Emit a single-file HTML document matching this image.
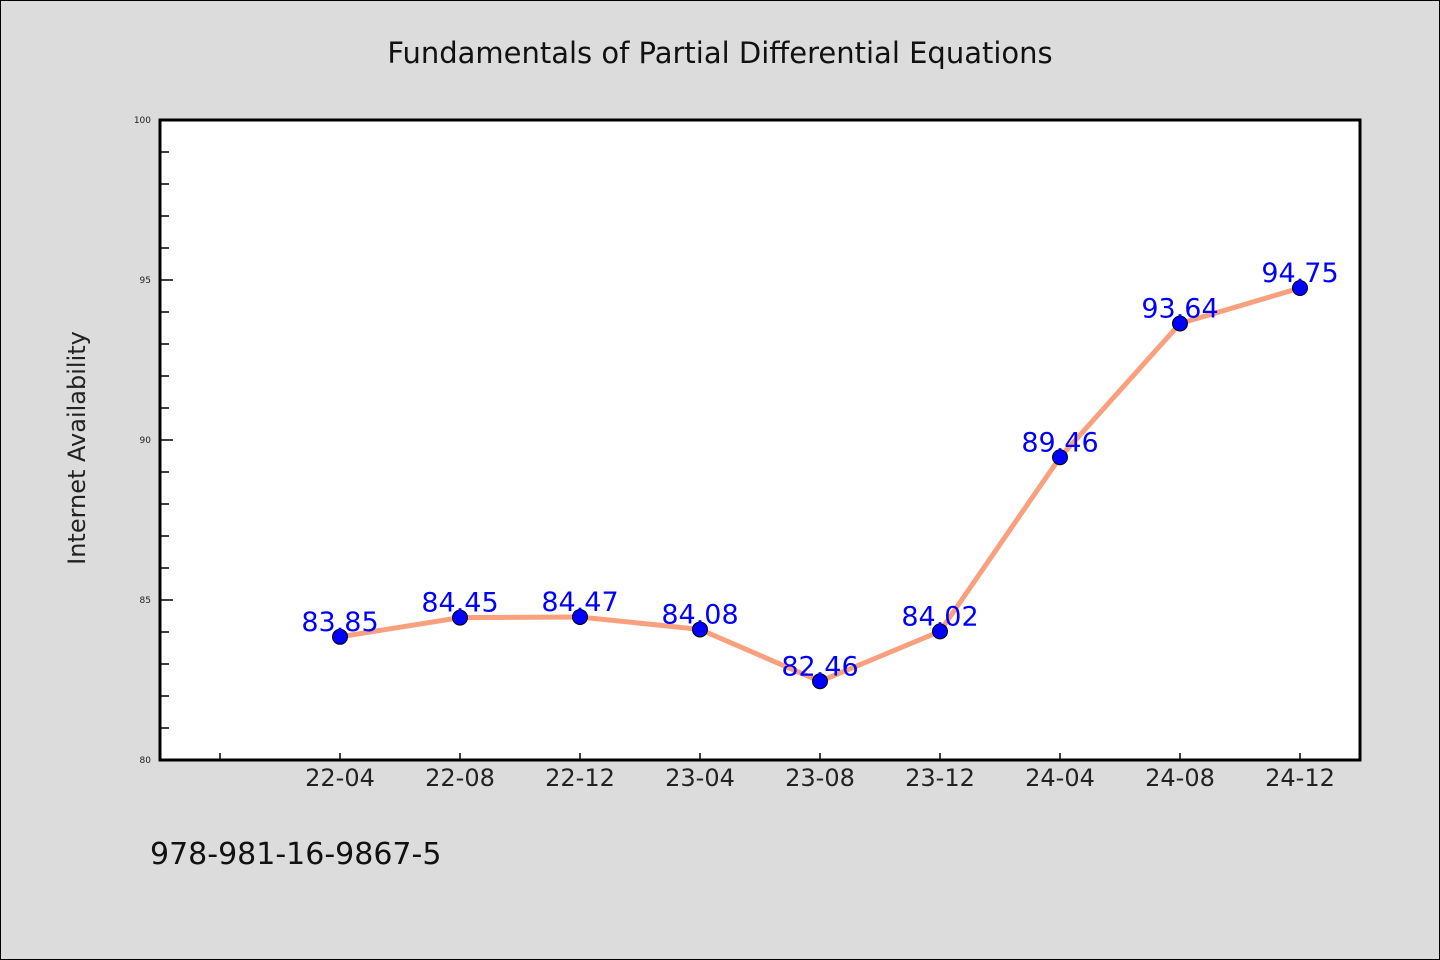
<!DOCTYPE html>
<html><head><meta charset="utf-8"><style>
body{margin:0;background:#dcdcdc;}
svg{display:block;font-family:"WenQuanYi Zen Hei","DejaVu Sans",sans-serif;}
</style></head><body>
<svg width="1440" height="960">
<rect x="0.5" y="0.5" width="1439" height="959" fill="#dcdcdc" stroke="#000"/>
<text x="720" y="63" text-anchor="middle" font-size="29" fill="#111">Fundamentals of Partial Differential Equations</text>
<rect x="160" y="120" width="1200" height="640" fill="#fff"/>
<g id="axes"></g>
<g id="marks"></g>
<rect x="160" y="120" width="1200" height="640" fill="none" stroke="#000" stroke-width="3"/>
<text transform="translate(85,448) rotate(-90)" text-anchor="middle" font-size="24" fill="#222">Internet Availability</text>
<text x="150" y="864" font-size="30" fill="#111">978-981-16-9867-5</text>
</svg>
<script>
const categories=["22-04","22-08","22-12","23-04","23-08","23-12","24-04","24-08","24-12"];
const values=[83.85,84.45,84.47,84.08,82.46,84.02,89.46,93.64,94.75];
const valueLabels=["83.85","84.45","84.47","84.08","82.46","84.02","89.46","93.64","94.75"];
const yTicks=[80,85,90,95,100];
const yMin=80,yMax=100;
const NS="http://www.w3.org/2000/svg";
function xs(i){return 160+60+120*(i+1);}
function ys(v){return 760-(v-yMin)/(yMax-yMin)*640;}
function mk(t,a,p){const e=document.createElementNS(NS,t);for(const k in a)e.setAttribute(k,a[k]);p.appendChild(e);return e;}
const ax=document.getElementById('axes'),mg=document.getElementById('marks');
for(let v=yMin;v<=yMax;v++){
 const major=v%5===0;
 const t=mk('line',{x1:160,x2:160+(major?13:9),y1:ys(v),y2:ys(v),stroke:'#000','stroke-width':1.5},ax);
 
 
}
yTicks.forEach(v=>{
 const t=mk('text',{x:151,y:ys(v)+3,'text-anchor':'end','font-size':9,fill:'#222'},ax);
 t.textContent=v;
 
 
});
for(let i=-1;i<categories.length;i++){
 const t=mk('line',{x1:xs(i),x2:xs(i),y1:760,y2:753,stroke:'#000','stroke-width':1.5},ax);
 
 
}
categories.forEach((c,i)=>{
 const t=mk('text',{x:xs(i),y:786,'text-anchor':'middle','font-size':24,fill:'#222'},ax);
 t.textContent=c;
 
 
});
const line=mk('polyline',{points:values.map((v,i)=>xs(i)+','+ys(v)).join(' '),fill:'none',stroke:'#f9a07e','stroke-width':5,'stroke-linejoin':'round'},mg);


values.forEach((v,i)=>{
 const c=mk('circle',{cx:xs(i),cy:ys(v),r:7.5,fill:'#0000ff',stroke:'#000','stroke-width':1},mg);
 
 
});
values.forEach((v,i)=>{
 const t=mk('text',{x:xs(i),y:ys(v)-6,'text-anchor':'middle','font-size':27,fill:'#0000ff','font-family':'DejaVu Sans, sans-serif'},mg);
 t.textContent=valueLabels[i];
 
 
});
</script>
</body></html>
